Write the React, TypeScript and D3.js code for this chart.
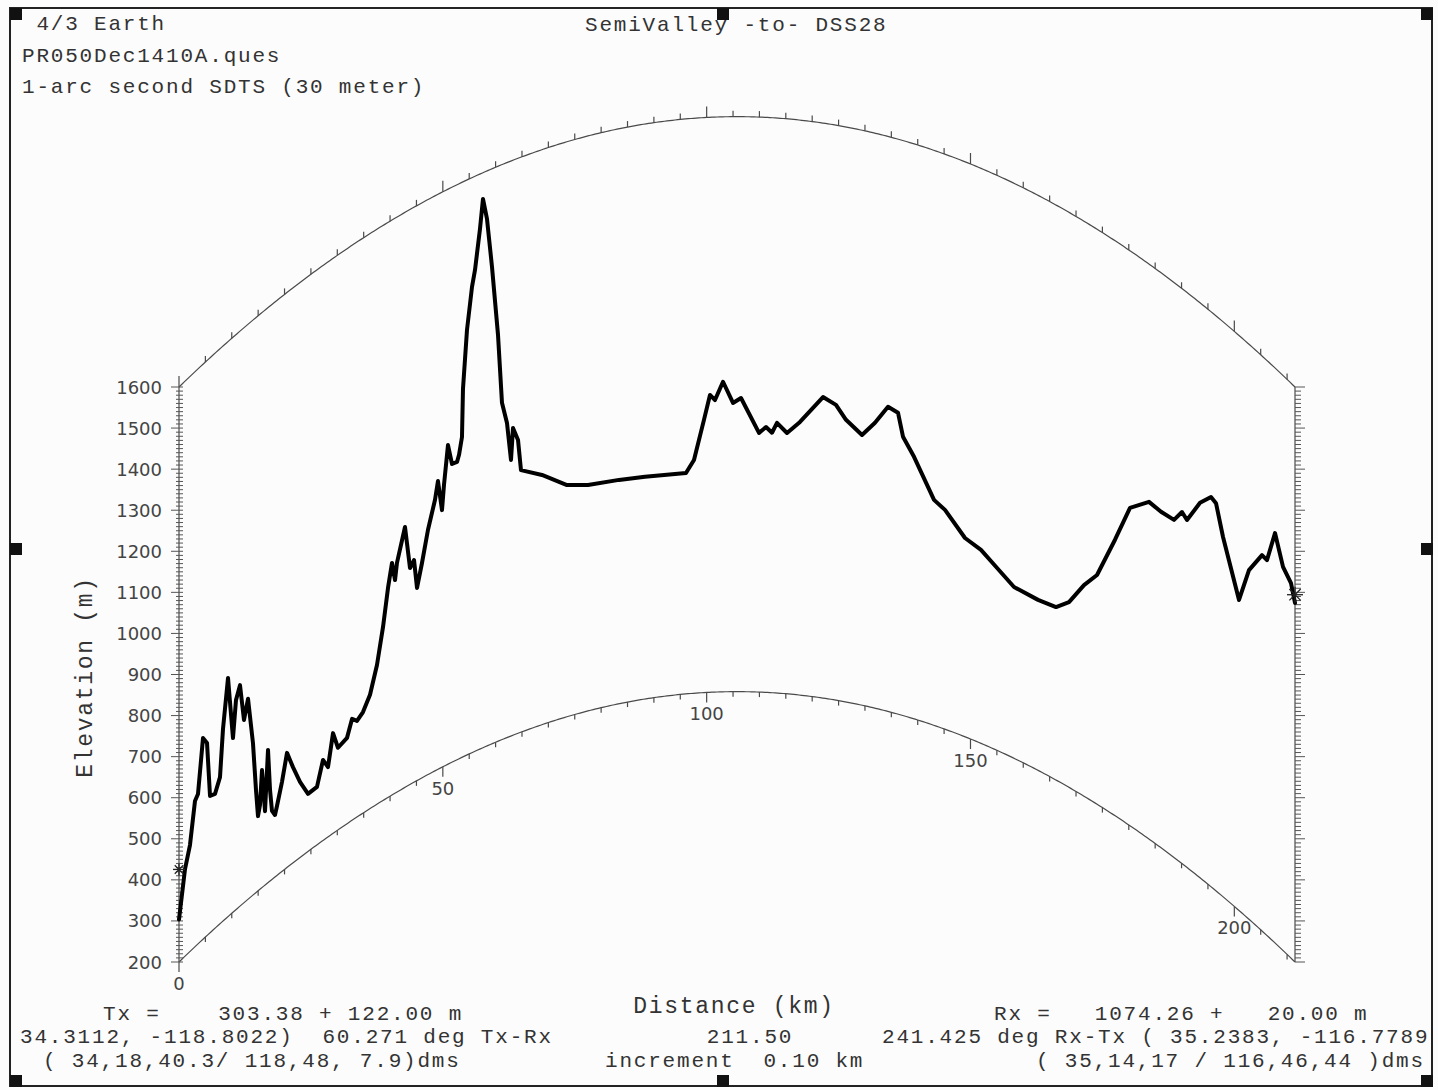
import React, { useEffect, useRef } from 'react';
import * as d3 from 'd3';

// profile samples (distance along path in km, terrain elevation in m)
const distKm = [
  0, 1.14, 2.08, 3.03, 3.6, 4.55, 5.31, 5.88, 6.82, 7.77, 8.34, 9.29, 10.23, 10.8, 11.56, 12.32,
  13.08, 14.02, 14.59, 14.97, 15.35, 15.73, 16.3, 16.87, 17.25, 17.62, 18.19, 18.57, 19.52, 20.47,
  21.6, 22.93, 24.45, 26.15, 27.29, 28.24, 29.19, 30.13, 31.84, 32.79, 33.73, 34.87, 36.2, 37.52,
  38.66, 39.61, 40.37, 40.94, 41.31, 42.83, 43.78, 44.54, 45.11, 46.05, 47.19, 48.52, 49.08, 49.84,
  50.22, 50.98, 51.74, 52.69, 53.07, 53.63, 53.82, 54.58, 55.53, 56.1, 57.04, 57.61, 58.37, 59.32,
  60.46, 61.21, 62.16, 62.92, 63.3, 64.25, 64.81, 68.79, 73.53, 77.51, 83.39, 88.31, 96.08, 97.6,
  99.49, 100.63, 101.58, 103.1, 104.99, 106.51, 109.92, 111.25, 112.38, 113.33, 115.23, 117.69,
  122.05, 124.51, 126.41, 129.44, 131.9, 134.37, 136.26, 137.21, 139.3, 143.09, 145.17, 148.96,
  151.99, 154.83, 158.25, 162.8, 166.21, 168.67, 171.51, 173.98, 177.39, 180.23, 183.83, 186.11,
  188.57, 190.08, 191.03, 193.5, 195.58, 196.53, 197.86, 200.89, 202.78, 205.25, 206.19, 207.71,
  209.23, 210.74, 211.5,
];
const elevM = [
  303.4, 412, 459, 555, 565, 690, 669, 533, 527, 557, 668, 781, 624, 710, 738, 645,
  688, 570, 450, 382, 405, 486, 380, 523, 422, 367, 351, 369, 418, 479,
  433, 384, 340, 341, 396, 370, 444, 400, 409, 447, 434, 446, 477, 539,
  622, 710, 765, 719, 758, 834, 727, 741, 669, 723, 796, 860, 902, 826,
  885, 977, 926, 925, 940, 980, 1096, 1235, 1334, 1372, 1466, 1536, 1483, 1361,
  1189, 1020, 966, 872, 948, 914, 838, 808, 764, 750, 745, 741, 738, 768,
  864, 924, 911, 955, 903, 915, 831, 846, 833, 858, 835, 865,
  933, 919, 887, 858, 895, 942, 934, 879, 838, 749, 734, 684,
  671, 646, 617, 615, 621, 651, 714, 758, 872, 974, 1021, 1018,
  1022, 1056, 1046, 1113, 1149, 1144, 1076, 956, 1050, 1115, 1114, 1198,
  1134, 1113, 1074.3,
];

const elevTicks = [200, 300, 400, 500, 600, 700, 800, 900, 1000, 1100, 1200, 1300, 1400, 1500, 1600];
const distLabels = [0, 50, 100, 150, 200];

const pathKm = 211.5;
const txElev = 303.38;
const txAnt = 122.0;
const rxElev = 1074.26;
const rxAnt = 20.0;
const kFactor = 4 / 3;
const earthKm = 6371;

const headerLines = [' 4/3 Earth', 'PR050Dec1410A.ques', '1-arc second SDTS (30 meter)'];
const title = 'SemiValley -to- DSS28';

const W = 1438;
const H = 1090;
const ink = '#333';
const mono = "'Liberation Mono', 'DejaVu Sans Mono', monospace";
const sans = "'DejaVu Sans', Verdana, sans-serif";

export default function App() {
  const svgRef = useRef<SVGSVGElement>(null);

  useEffect(() => {
    if (!svgRef.current) return;
    const svg = d3.select(svgRef.current);
    svg.selectAll('*').remove();

    const x = d3.scaleLinear().domain([0, pathKm]).range([179, 1295]);
    const y = d3.scaleLinear().domain([200, 1600]).range([962, 387]);
    // earth bulge (m) at distance d for 4/3 earth
    const bulge = (d: number) => (d * (pathKm - d)) / (2 * kFactor * earthKm) * 1000;

    svg.append('rect').attr('width', W).attr('height', H).attr('fill', '#fcfcfc');

    // frame + corner markers
    svg.append('rect')
      .attr('x', 10).attr('y', 8).attr('width', 1422).attr('height', 1078)
      .attr('fill', 'none').attr('stroke', '#222').attr('stroke-width', 2);
    const marks = [
      [10, 8], [717, 8], [1421, 8],
      [10, 543], [1421, 543],
      [10, 1075], [717, 1075], [1421, 1075],
    ];
    svg.selectAll('.mark').data(marks).enter().append('rect')
      .attr('x', d => d[0]).attr('y', d => d[1]).attr('width', 12).attr('height', 12)
      .attr('fill', '#111');

    // arcs
    const arcSteps = d3.range(0, pathKm + 0.01, 0.5).concat([pathKm]);
    const arc = (level: number) => d3.line<number>()
      .x(d => x(d))
      .y(d => y(level + bulge(d)));
    [1600, 200].forEach(level => {
      svg.append('path')
        .attr('d', arc(level)(arcSteps) || '')
        .attr('fill', 'none').attr('stroke', '#4a4a4a').attr('stroke-width', 1.2);
    });

    const kmTicks = d3.range(0, pathKm, 5);
    // top arc ticks (upward)
    svg.selectAll('.ttick').data(kmTicks).enter().append('line')
      .attr('x1', d => x(d)).attr('x2', d => x(d))
      .attr('y1', d => y(1600 + bulge(d)))
      .attr('y2', d => y(1600 + bulge(d)) - (d % 50 === 0 ? 11 : 6))
      .attr('stroke', '#4a4a4a').attr('stroke-width', 1.2);
    // bottom arc ticks (downward)
    svg.selectAll('.btick').data(kmTicks).enter().append('line')
      .attr('x1', d => x(d)).attr('x2', d => x(d))
      .attr('y1', d => y(200 + bulge(d)))
      .attr('y2', d => y(200 + bulge(d)) + (d % 50 === 0 ? 10 : 5))
      .attr('stroke', '#4a4a4a').attr('stroke-width', 1.2);
    svg.selectAll('.blabel').data(distLabels).enter().append('text')
      .attr('x', d => x(d))
      .attr('y', d => y(200 + bulge(d)) + 28)
      .attr('text-anchor', 'middle')
      .attr('font-family', sans).attr('font-size', 18).attr('fill', '#444')
      .text(d => d);

    // vertical axes
    const minor = d3.range(200, 1601, 10);
    [x(0), x(pathKm)].forEach(ax => {
      svg.append('line').attr('x1', ax).attr('x2', ax).attr('y1', y(200)).attr('y2', y(1600))
        .attr('stroke', '#4a4a4a').attr('stroke-width', 1.2);
    });
    const left = x(0);
    const right = x(pathKm);
    svg.selectAll('.lminor').data(minor).enter().append('line')
      .attr('x1', d => left - (d % 100 === 0 ? 8 : 3)).attr('x2', left + 4)
      .attr('y1', d => y(d)).attr('y2', d => y(d))
      .attr('stroke', '#555').attr('stroke-width', 1);
    svg.selectAll('.rminor').data(minor).enter().append('line')
      .attr('x1', right).attr('x2', d => right + (d % 100 === 0 ? 10 : 6))
      .attr('y1', d => y(d)).attr('y2', d => y(d))
      .attr('stroke', '#555').attr('stroke-width', 1);
    svg.selectAll('.ylabel').data(elevTicks).enter().append('text')
      .attr('x', left - 17).attr('y', d => y(d) + 6.5)
      .attr('text-anchor', 'end')
      .attr('font-family', sans).attr('font-size', 18).attr('fill', '#444')
      .text(d => d);

    // terrain profile drawn on curved earth
    const pts = distKm.map((d, i) => [d, elevM[i]] as [number, number]);
    svg.append('path')
      .attr('d', d3.line<[number, number]>()
        .x(p => x(p[0]))
        .y(p => y(p[1] + bulge(p[0])))(pts) || '')
      .attr('fill', 'none').attr('stroke', '#000').attr('stroke-width', 4)
      .attr('stroke-linejoin', 'round').attr('stroke-linecap', 'round');

    // antenna stars
    const star = (cx: number, cy: number, r: number) => {
      [0, 45, 90, 135].forEach(a => {
        const dx = Math.cos((a * Math.PI) / 180) * r;
        const dy = Math.sin((a * Math.PI) / 180) * r;
        svg.append('line')
          .attr('x1', cx - dx).attr('y1', cy - dy).attr('x2', cx + dx).attr('y2', cy + dy)
          .attr('stroke', '#222').attr('stroke-width', 1.3);
      });
    };
    star(x(0), y(txElev + txAnt), 6);
    star(x(pathKm), y(rxElev + rxAnt), 8);

    // texts (mono, spaced to the plotter's 14.4px character pitch)
    const txt = (s: string, tx: number, ty: number, size = 21, spacing = 1.8, anchor = 'start') =>
      svg.append('text')
        .attr('x', tx).attr('y', ty)
        .attr('text-anchor', anchor)
        .attr('font-family', mono).attr('font-size', size).attr('fill', ink)
        .attr('letter-spacing', spacing)
        .style('white-space', 'pre')
        .text(s);

    headerLines.forEach((s, i) => txt(s, 22, 30 + i * 31.5));
    txt(title, 585, 31);

    txt(`Tx =    ${txElev.toFixed(2)} + ${txAnt.toFixed(2)} m`, 103, 1020);
    txt('34.3112, -118.8022)  60.271 deg Tx-Rx', 20, 1043);
    txt('( 34,18,40.3/ 118,48, 7.9)dms', 43, 1067);

    txt('Distance (km)', 734, 1013, 23, 1.7, 'middle');
    txt(pathKm.toFixed(2), 750, 1043, 21, 1.8, 'middle');
    txt('increment  0.10 km', 605, 1067);

    txt(`Rx =   ${rxElev.toFixed(2)} +   ${rxAnt.toFixed(2)} m`, 994, 1020);
    txt('241.425 deg Rx-Tx ( 35.2383, -116.7789', 882, 1043);
    txt('( 35,14,17 / 116,46,44 )dms', 1036, 1067);

    svg.append('text')
      .attr('transform', 'translate(92,677) rotate(-90)')
      .attr('text-anchor', 'middle')
      .attr('font-family', mono).attr('font-size', 23).attr('fill', ink)
      .attr('letter-spacing', 1.7)
      .text('Elevation (m)');
  }, []);

  return (
    <div style={{ position: 'fixed', left: 0, top: 0 }}>
      <svg ref={svgRef} width={W} height={H} style={{ display: 'block' }} />
    </div>
  );
}
